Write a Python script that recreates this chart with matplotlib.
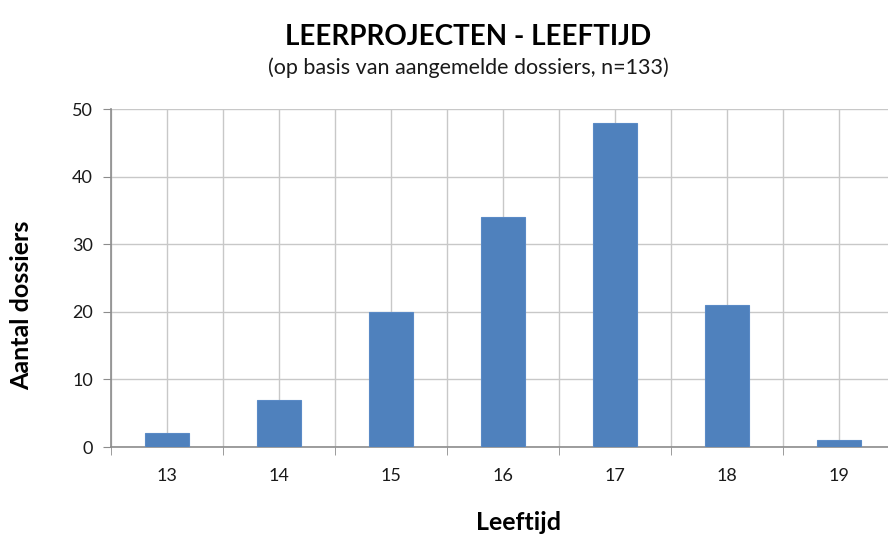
import matplotlib.pyplot as plt
import numpy as np

plt.rcParams['font.family'] = ['Lato', 'DejaVu Sans']

# Data
leeftijd = [13, 14, 15, 16, 17, 18, 19]
dossiers = [2, 7, 20, 34, 48, 21, 1]
yticks = [0, 10, 20, 30, 40, 50]

W, H = 888, 536
fig = plt.figure(figsize=(W / 100, H / 100), dpi=100)
ax = fig.add_axes([111 / W, (H - 447) / H, 784 / W, (447 - 109) / H])

x = np.array(leeftijd)
ax.bar(x, dossiers, width=0.39, color='#4F81BD', edgecolor='#5A8AC6',
       linewidth=0.8, zorder=3)

ax.set_xlim(x[0] - 0.5, x[-1] + 0.5)
ax.set_ylim(0, 50)

ax.set_xticks(x)
ax.set_xticklabels([str(v) for v in leeftijd])
ax.set_xticks(np.arange(x[0] - 0.5, x[-1] + 1), minor=True)
ax.set_yticks(yticks)

grid_c = '#C8C8C8'
ax.grid(True, which='major', axis='both', color=grid_c, linewidth=1, zorder=0)
ax.grid(True, which='minor', axis='x', color=grid_c, linewidth=1, zorder=0)

for s in ['top', 'right']:
    ax.spines[s].set_visible(False)
for s in ['left', 'bottom']:
    ax.spines[s].set_color('#8C8C8C')
    ax.spines[s].set_linewidth(1.2)

ax.tick_params(axis='x', which='major', length=0, pad=15,
               labelsize=13, labelcolor='#1A1A1A')
ax.tick_params(axis='x', which='minor', length=6, color='#8C8C8C',
               direction='out')
ax.tick_params(axis='y', length=6, color='#8C8C8C', pad=7,
               labelsize=13, labelcolor='#1A1A1A')

fig.text(468 / W, 1 - 37 / H, 'LEERPROJECTEN - LEEFTIJD', ha='center',
         va='center', fontsize=20, fontweight='bold')
fig.text(468 / W, 1 - 68 / H, '(op basis van aangemelde dossiers, n=133)',
         ha='center', va='center', fontsize=15.5, color='#1A1A1A')
fig.text(22 / W, 1 - 305 / H, 'Aantal dossiers', ha='center', va='center',
         rotation=90, fontsize=18, fontweight='bold')
fig.text(518 / W, 1 - 522 / H, 'Leeftijd', ha='center', va='center',
         fontsize=18, fontweight='bold')

fig.savefig('out.png', dpi=100)
